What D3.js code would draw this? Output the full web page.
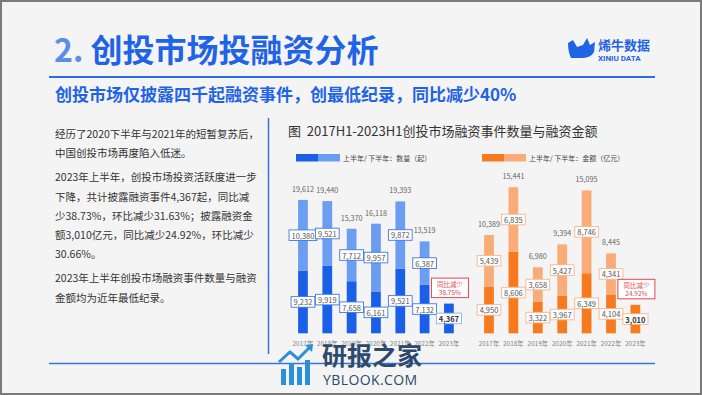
<!DOCTYPE html>
<html>
<head>
<meta charset="utf-8">
<script src="https://cdn.jsdelivr.net/npm/d3@7"></script>
<style>
  html, body { margin: 0; padding: 0; background: #f4f4f4; }
  svg { display: block; font-family: "Noto Sans CJK SC", "Noto Sans", sans-serif; }
</style>
</head>
<body>
<div id="chart"></div>
<script>
// Slide: 创投市场投融资分析 — two stacked bar charts (count / amount by half-year)

const years = ["2017年", "2018年", "2019年", "2020年", "2021年", "2022年", "2023年"];

// 融资事件数量（起）
const countH1    = [9232, 9919, 7658, 6161, 9521, 7132, 4367];
const countH2    = [10380, 9521, 7712, 9957, 9872, 6387, null];
const countTotal = [19612, 19440, 15370, 16118, 19393, 13519, null];

// 融资金额（亿元）
const amountH1    = [4950, 8606, 3322, 3967, 6349, 4104, 3010];
const amountH2    = [5439, 6835, 3658, 5427, 8746, 4341, null];
const amountTotal = [10389, 15441, 6980, 9394, 15095, 8445, null];

const paragraphs = [
  ["经历了2020下半年与2021年的短暂复苏后，", "中国创投市场再度陷入低迷。"],
  ["2023年上半年，创投市场投资活跃度进一步", "下降，共计披露融资事件4,367起，同比减",
   "少38.73%，环比减少31.63%；披露融资金", "额3,010亿元，同比减少24.92%，环比减少", "30.66%。"],
  ["2023年上半年创投市场融资事件数量与融资", "金额均为近年最低纪录。"]
];

const W = 702, H = 395;
const FONT = "'Noto Sans CJK SC', 'Noto Sans', sans-serif";
const fmt = d3.format(",");

const svg = d3.select("#chart").append("svg")
  .attr("width", W).attr("height", H)
  .attr("viewBox", `0 0 ${W} ${H}`);

// Background + frame
svg.append("rect")
  .attr("x", 1).attr("y", 1).attr("width", W - 2).attr("height", H - 2)
  .attr("fill", "#f4f4f4")
  .attr("stroke", "#7a7a7a").attr("stroke-width", 2);

// Title
const title = svg.append("text")
  .attr("x", 54).attr("y", 62)
  .attr("font-size", 32).attr("font-weight", 700)
  .attr("font-family", FONT);
title.append("tspan").attr("fill", "#5a8fe8").text("2. ");
title.append("tspan").attr("fill", "#1f63e6").text("创投市场投融资分析");

// Logo (烯牛数据)
svg.append("path")
  .attr("d", "M568,43 L573,40 L577,47 L583,45 L587,38 L590,45 L595,42 L594,52 Q591,58 581,58 L571,58 Q568,52 568,43 Z")
  .attr("fill", "#1f63e6");
svg.append("text")
  .attr("x", 598).attr("y", 50)
  .attr("font-size", 13).attr("font-weight", 700)
  .attr("fill", "#1f63e6").attr("font-family", FONT)
  .text("烯牛数据");
svg.append("text")
  .attr("x", 598).attr("y", 61)
  .attr("font-size", 8).attr("font-weight", 700)
  .attr("fill", "#1f63e6").attr("font-family", "Roboto, sans-serif")
  .text("XINIU DATA");

// Divider under title
svg.append("line")
  .attr("x1", 49).attr("x2", 655).attr("y1", 77).attr("y2", 77)
  .attr("stroke", "#2b6de8").attr("stroke-width", 2);

// Subtitle
svg.append("text")
  .attr("x", 55).attr("y", 101)
  .attr("font-size", 17).attr("font-weight", 700)
  .attr("fill", "#1f63e6").attr("font-family", FONT)
  .text("创投市场仅披露四千起融资事件，创最低纪录，同比减少40%");

// Left paragraphs
let ty = 138;
paragraphs.forEach(p => {
  p.forEach(line => {
    svg.append("text")
      .attr("x", 55).attr("y", ty)
      .attr("font-size", 10.5).attr("fill", "#333")
      .attr("font-family", FONT)
      .text(line);
    ty += 19.2;
  });
  ty += 5;
});

// Vertical separator and bottom rule
svg.append("line")
  .attr("x1", 268.5).attr("x2", 268.5).attr("y1", 118).attr("y2", 354)
  .attr("stroke", "#3a72e0").attr("stroke-width", 1.5);
svg.append("line")
  .attr("x1", 49).attr("x2", 655).attr("y1", 363.5).attr("y2", 363.5)
  .attr("stroke", "#3a72e0").attr("stroke-width", 1.5);

// Chart title
svg.append("text")
  .attr("x", 288).attr("y", 136)
  .attr("font-size", 13).attr("fill", "#333")
  .attr("font-family", FONT)
  .attr("xml:space", "preserve")
  .text("图  2017H1-2023H1创投市场融资事件数量与融资金额");

// Legends
function legend(x0, c1, c2, label) {
  svg.append("rect").attr("x", x0).attr("y", 154).attr("width", 22).attr("height", 7.5).attr("fill", c1);
  svg.append("rect").attr("x", x0 + 22).attr("y", 154).attr("width", 22).attr("height", 7.5).attr("fill", c2);
  svg.append("text")
    .attr("x", x0 + 47).attr("y", 160.5)
    .attr("font-size", 7).attr("fill", "#444")
    .attr("font-family", FONT)
    .text(label);
}
legend(296, "#1a5fe8", "#6b9df0", "上半年/ 下半年：数量（起）");
legend(482, "#f87a1e", "#f9ac78", "上半年/ 下半年：金额（亿元）");

function boxLabel(g, cx, cy, text, stroke, bold) {
  const t = g.append("text")
    .attr("x", cx).attr("y", cy)
    .attr("text-anchor", "middle").attr("dominant-baseline", "central")
    .attr("font-size", 7.5)
    .attr("font-weight", bold ? 700 : 400)
    .attr("fill", bold ? "#333" : "#555")
    .attr("font-family", FONT)
    .text(text);
  const w = t.node().getComputedTextLength() + 5;
  g.insert("rect", () => t.node())
    .attr("x", cx - w / 2).attr("y", cy - 5.3)
    .attr("width", w).attr("height", 10.6)
    .attr("fill", "#fff")
    .attr("stroke", stroke).attr("stroke-width", 0.9);
}

function drawChart(cfg) {
  const x = d3.scaleBand().domain(years).range(cfg.xRange);
  const y = d3.scaleLinear().domain([0, cfg.yMax]).range([333.3, cfg.yTop]);
  const bw = x.step() * 0.4;
  const cx = d => x(d) + x.step() / 2;

  const g = svg.append("g");

  years.forEach((yr, i) => {
    const h1 = cfg.h1[i], h2 = cfg.h2[i];
    g.append("rect")
      .attr("x", cx(yr) - bw / 2).attr("y", y(h1))
      .attr("width", bw).attr("height", y(0) - y(h1))
      .attr("fill", cfg.dark);
    if (h2 != null) {
      g.append("rect")
        .attr("x", cx(yr) - bw / 2).attr("y", y(h1 + h2))
        .attr("width", bw).attr("height", y(h1) - y(h1 + h2))
        .attr("fill", cfg.light);
    }
  });

  const lg = svg.append("g");
  years.forEach((yr, i) => {
    const h1 = cfg.h1[i], h2 = cfg.h2[i];
    const last = h2 == null;
    boxLabel(lg, cx(yr), (y(0) + y(h1)) / 2, fmt(h1), last ? cfg.lastStroke : cfg.stroke, last);
    if (!last) {
      boxLabel(lg, cx(yr), (y(h1) + y(h1 + h2)) / 2, fmt(h2), cfg.stroke, false);
      lg.append("text")
        .attr("x", cx(yr)).attr("y", y(cfg.total[i]) - 8)
        .attr("text-anchor", "middle")
        .attr("font-size", 7.2).attr("fill", "#666")
        .attr("font-family", FONT)
        .text(fmt(cfg.total[i]));
    } else {
      // 同比 callout above latest bar
      const bx = cx(yr) + 1, bottom = y(h1) - 6;
      lg.append("rect")
        .attr("x", bx - 18.5).attr("y", bottom - 19.5)
        .attr("width", 37).attr("height", 19.5)
        .attr("fill", "#fff")
        .attr("stroke", "#e5474f").attr("stroke-width", 1);
      lg.append("text")
        .attr("x", bx).attr("y", bottom - 13.5)
        .attr("text-anchor", "middle").attr("dominant-baseline", "central")
        .attr("font-size", 6.5).attr("fill", "#e5474f")
        .attr("font-family", FONT)
        .text("同比减少");
      lg.append("text")
        .attr("x", bx).attr("y", bottom - 5.5)
        .attr("text-anchor", "middle").attr("dominant-baseline", "central")
        .attr("font-size", 6.5).attr("fill", "#e5474f")
        .attr("font-family", FONT)
        .text(cfg.callout);
    }
  });

  const axis = svg.append("g")
    .attr("transform", "translate(0,333.3)")
    .call(d3.axisBottom(x).tickSize(0).tickPadding(8));
  axis.select(".domain").remove();
  axis.selectAll("text")
    .attr("font-size", 6.5).attr("fill", "#888")
    .attr("font-family", FONT);
}

drawChart({
  xRange: [290.8, 461.1], yMax: 20000, yTop: 197.3,
  h1: countH1, h2: countH2, total: countTotal,
  dark: "#1a5fe8", light: "#6b9df0",
  stroke: "#3f78e2", lastStroke: "#8fb0ee",
  callout: "38.75%"
});

drawChart({
  xRange: [476.8, 647.6], yMax: 16000, yTop: 181.9,
  h1: amountH1, h2: amountH2, total: amountTotal,
  dark: "#f87a1e", light: "#f9ac78",
  stroke: "#f6b68c", lastStroke: "#f6b68c",
  callout: "24.92%"
});

// Watermark (研报之家)
const wm = svg.append("g");
[[281, 369, 5], [289, 363, 5], [297, 367, 5], [305, 360, 5]].forEach(([bx, by, w]) => {
  wm.append("rect").attr("x", bx).attr("y", by).attr("width", w).attr("height", 385 - by).attr("fill", "#2b90d9");
});
wm.append("polyline")
  .attr("points", "279,362 290,352 298,359 310,347")
  .attr("fill", "none").attr("stroke", "#2b90d9").attr("stroke-width", 3);
wm.append("path")
  .attr("d", "M305,345 L313,344 L312,352 Z")
  .attr("fill", "#2b90d9");
wm.append("text")
  .attr("x", 322).attr("y", 365)
  .attr("font-size", 25).attr("font-weight", 700)
  .attr("fill", "#2d4a6e").attr("font-family", FONT)
  .text("研报之家");
wm.append("text")
  .attr("x", 323).attr("y", 385)
  .attr("font-size", 14).attr("font-weight", 400)
  .attr("letter-spacing", 0.4)
  .attr("fill", "#2d4a6e").attr("font-family", "'Open Sans', sans-serif")
  .text("YBLOOK.COM");
</script>
</body>
</html>
